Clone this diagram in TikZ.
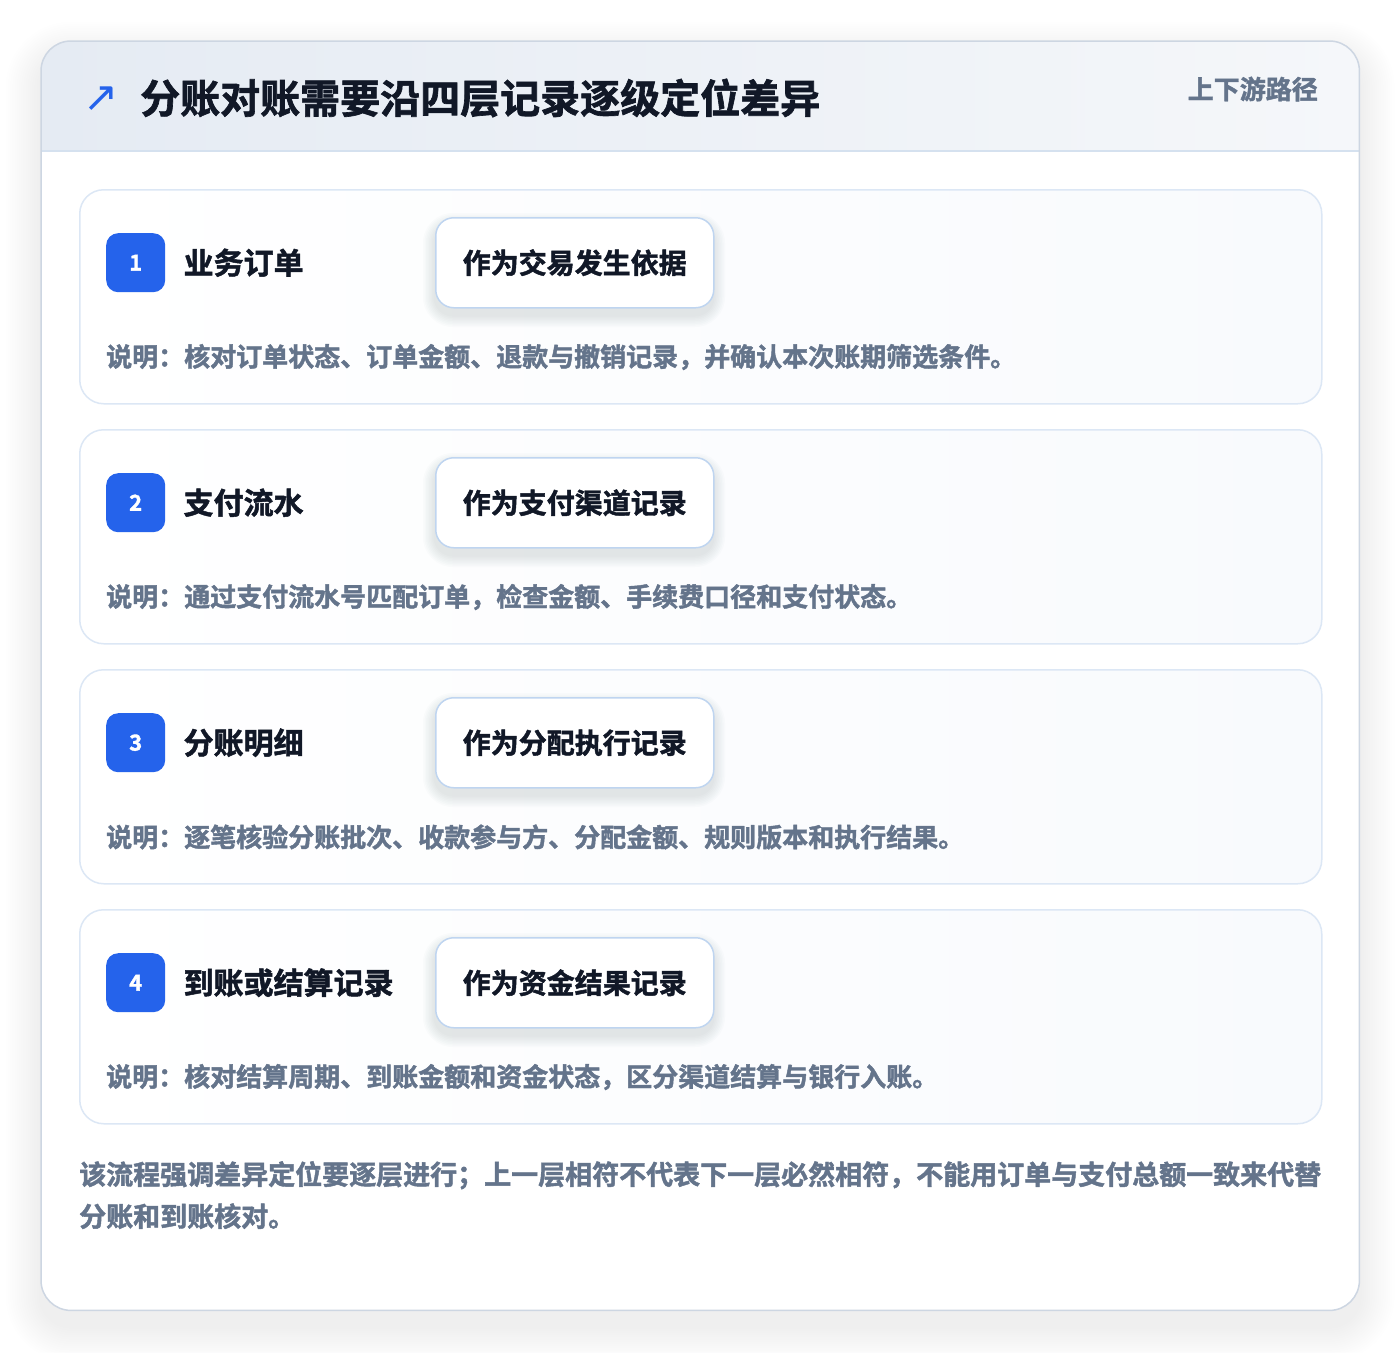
\documentclass[tikz,border=0pt]{standalone}
\usepackage{fontspec}
\setmainfont{Noto Sans CJK SC}[BoldFont={Noto Sans CJK SC Bold}, BoldFeatures={FakeBold=1.6}]
\newfontfamily\symfont{DejaVu Sans}
\usetikzlibrary{positioning}
\definecolor{accent}{HTML}{2563EB}
\definecolor{ink}{HTML}{111827}
\definecolor{muted}{HTML}{64748B}
\definecolor{framebd}{HTML}{CDD6E2}
\definecolor{hdleft}{HTML}{E5EBF3}
\definecolor{hdright}{HTML}{F5F7FA}
\definecolor{hdline}{HTML}{D5E1EF}
\definecolor{cardline}{HTML}{DCE7F5}
\definecolor{cardright}{HTML}{F8FAFD}
\definecolor{tagline}{HTML}{BFD5F0}
\definecolor{shadowcol}{HTML}{334155}
\tikzset{frame/.style={rectangle, rounded corners=30pt, inner sep=0pt,
		minimum width=1318pt, minimum height=1269pt},
	card/.style={rectangle, rounded corners=24pt, draw=cardline, line width=1.5pt,
		left color=white, right color=cardright, inner sep=0pt,
		minimum width=1242pt, minimum height=214pt},
	badge/.style={rectangle, rounded corners=12pt, fill=accent, text=white, inner sep=0pt,
		minimum size=59pt, font=\bfseries\fontsize{22}{22}\selectfont},
	steptitle/.style={inner sep=0pt, text=ink, font=\bfseries\fontsize{30}{30}\selectfont},
	tagbox/.style={rectangle, rounded corners=18pt, draw=tagline, line width=1.5pt, fill=white,
		inner sep=0pt, minimum width=278pt, minimum height=90pt, text=ink,
		font=\bfseries\fontsize{28}{28}\selectfont},
	desc/.style={inner sep=0pt, text=muted, font=\bfseries\fontsize{26}{26}\selectfont}}
% soft shadow under a tag box, placed from its card
\newcommand{\tagshadow}[1]{%
	\foreach \i in {1,...,8}{%
		\fill[shadowcol, opacity=0.014, rounded corners={18pt+1.5pt*\i}]
		([shift={(356pt-1.5pt*\i,-36pt+1.5pt*\i)}]#1.north west) rectangle
		([shift={(634pt+1.5pt*\i,-126pt-1.5pt*\i)}]#1.north west);}}
\begin{document}
\begin{tikzpicture}[x=1pt,y=-1pt]
	\useasboundingbox[fill=white] (0,0) rectangle (1400,1352);
	% outer frame, shadow and header
	\node[frame, anchor=north west] (frame) at (41,41) {};
	\foreach \i in {1,...,16}{
		\fill[shadowcol, opacity=0.0045, rounded corners={30pt+2.2pt*\i}]
		([shift={(-2.2pt*\i,-16pt+2.2pt*\i)}]frame.north west) rectangle
		([shift={(2.2pt*\i,-16pt-2.2pt*\i)}]frame.south east);}
	\fill[white, rounded corners=30pt] (frame.north west) rectangle (frame.south east);
	\begin{scope}
		\clip[rounded corners=30pt] (frame.north west) rectangle (frame.south east);
		\shade[left color=hdleft, right color=hdright] (41,41) rectangle (1359,151);
	\end{scope}
	\draw[hdline, line width=1.5pt] (41,151) -- (1359,151);
	\draw[framebd, line width=1.5pt, rounded corners=30pt] (frame.north west) rectangle (frame.south east);
	\node[text=accent, inner sep=0pt, font=\symfont\fontsize{42}{42}\selectfont] (icon) at (101,99) {↗};
	\node[anchor=west, inner sep=0pt, text=ink, font=\bfseries\fontsize{40}{40}\selectfont] (title) at (140,98) {分账对账需要沿四层记录逐级定位差异};
	\node[anchor=east, inner sep=0pt, text=muted, font=\bfseries\fontsize{26}{26}\selectfont] (route) at (1318,89) {上下游路径};
	
	% step 1
	\node[card, anchor=north west] (c1) at (79,189) {};
	\tagshadow{c1}
	\node[badge, below right=44pt and 27pt of c1.north west] (b1) {1};
	\node[steptitle, right=18pt of b1] (s1) {业务订单};
	\node[tagbox, below right=28pt and 356pt of c1.north west] (t1) {作为交易发生依据};
	\node[desc, anchor=west] (d1) at ([shift={(27pt,-168pt)}]c1.north west) {说明：核对订单状态、订单金额、退款与撤销记录，并确认本次账期筛选条件。};
	
	% step 2
	\node[card, anchor=north west] (c2) at (79,429) {};
	\tagshadow{c2}
	\node[badge, below right=44pt and 27pt of c2.north west] (b2) {2};
	\node[steptitle, right=18pt of b2] (s2) {支付流水};
	\node[tagbox, below right=28pt and 356pt of c2.north west] (t2) {作为支付渠道记录};
	\node[desc, anchor=west] (d2) at ([shift={(27pt,-168pt)}]c2.north west) {说明：通过支付流水号匹配订单，检查金额、手续费口径和支付状态。};
	
	% step 3
	\node[card, anchor=north west] (c3) at (79,669) {};
	\tagshadow{c3}
	\node[badge, below right=44pt and 27pt of c3.north west] (b3) {3};
	\node[steptitle, right=18pt of b3] (s3) {分账明细};
	\node[tagbox, below right=28pt and 356pt of c3.north west] (t3) {作为分配执行记录};
	\node[desc, anchor=west] (d3) at ([shift={(27pt,-168pt)}]c3.north west) {说明：逐笔核验分账批次、收款参与方、分配金额、规则版本和执行结果。};
	
	% step 4
	\node[card, anchor=north west] (c4) at (79,909) {};
	\tagshadow{c4}
	\node[badge, below right=44pt and 27pt of c4.north west] (b4) {4};
	\node[steptitle, right=18pt of b4] (s4) {到账或结算记录};
	\node[tagbox, below right=28pt and 356pt of c4.north west] (t4) {作为资金结果记录};
	\node[desc, anchor=west] (d4) at ([shift={(27pt,-168pt)}]c4.north west) {说明：核对结算周期、到账金额和资金状态，区分渠道结算与银行入账。};
	
	% closing note
	\node[anchor=north west, inner sep=0pt, align=left, text=muted,
	font=\bfseries\fontsize{27}{42}\selectfont] (note) at (79,1161)
	{该流程强调差异定位要逐层进行；上一层相符不代表下一层必然相符，不能用订单与支付总额一致来代替\\分账和到账核对。};
\end{tikzpicture}
\end{document}
